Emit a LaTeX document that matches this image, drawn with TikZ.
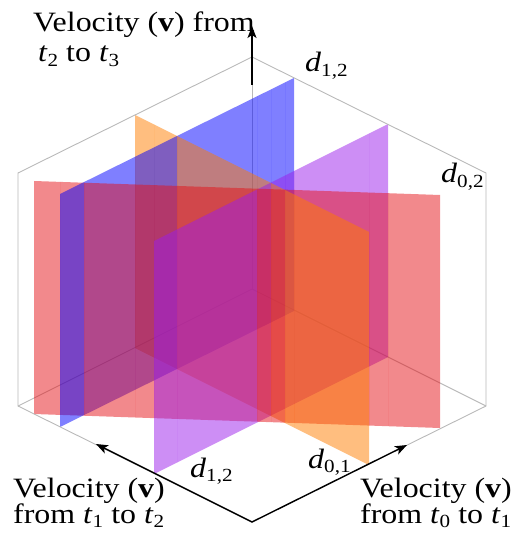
\documentclass[tikz,border=0pt]{standalone}
\usepackage{fontspec}
\setmainfont{Liberation Serif}[FakeStretch=1.14]
\usetikzlibrary{arrows.meta}
\definecolor{cR}{RGB}{229,19,25}
\definecolor{cB}{RGB}{0,0,255}
\definecolor{cP}{RGB}{155,30,235}
\definecolor{cO}{RGB}{255,125,0}
\definecolor{edgegray}{RGB}{185,185,185}
\newcommand\mysub[1]{\raisebox{-4.5pt}{\fontsize{18.5}{18.5}\selectfont #1}}
\newcommand\plR{\fill[fR] (34,181) -- (440,195) -- (440,428) -- (34,414) -- cycle;}
\newcommand\plB{\fill[fB] (294,78) -- (60,194) -- (60,427) -- (294,311) -- cycle;}
\newcommand\plP{\fill[fP] (388,124) -- (154,241) -- (154,474) -- (388,357) -- cycle;}
\newcommand\plO{\fill[fO] (135,115) -- (369,232) -- (369,465) -- (135,348) -- cycle;}
\newcommand\band[3]{\begin{scope}\clip (#1,0) rectangle (#2,537); #3\end{scope}}
\begin{document}
\begin{tikzpicture}[x=1pt,y=-1pt,
  edgeline/.style={draw=edgegray, line width=0.9pt},
  axisarrow/.style={draw=black, line width=1.4pt, line join=miter},
  lbl/.style={font=\fontsize{28}{30}\selectfont, inner sep=0pt, anchor=base west},
  fR/.style={fill=cR, fill opacity=0.5},
  fB/.style={fill=cB, fill opacity=0.5},
  fP/.style={fill=cP, fill opacity=0.5},
  fO/.style={fill=cO, fill opacity=0.5}]
\useasboundingbox (0,0) rectangle (519,537);
% cube corners
\coordinate (C) at (252,289);
\coordinate (T) at (252,57);
\coordinate (UR) at (486,173);
\coordinate (LR) at (486,406);
\coordinate (Bt) at (252,522);
\coordinate (LL) at (18,406);
\coordinate (UL) at (18,173);
% back edges
\draw[edgeline] (C) -- (T);
\draw[edgeline] (C) -- (LL);
\draw[edgeline] (C) -- (LR);
% planes, depth sorted per column band
\band{34}{60}{\plR}
\band{60}{84}{\plR\plB}
\band{84}{135}{\plB\plR}
\band{135}{154}{\plO\plB\plR}
\band{154}{177}{\plO\plB\plR\plP}
\band{177}{257}{\plB\plO\plR\plP}
\band{257}{271}{\plB\plO\plP\plR}
\band{271}{285}{\plB\plP\plO\plR}
\band{285}{294}{\plB\plP\plR\plO}
\band{294}{369}{\plP\plR\plO}
\band{369}{388}{\plP\plR}
\band{388}{440}{\plR}
% outline
\draw[edgeline] (T) -- (UR) -- (LR) -- (Bt) -- (LL) -- (UL) -- cycle;
% labels
\node[lbl] (top1) at (33,32) {Velocity (\textbf{v}) from};
\node[lbl] (top2) at (38,62) {\textit{t}\mysub{2} to \textit{t}\mysub{3}};
\node[lbl] (bl1) at (13,497) {Velocity (\textbf{v})};
\node[lbl] (bl2) at (13,523) {from \textit{t}\mysub{1} to \textit{t}\mysub{2}};
\node[lbl] (br1) at (360,497) {Velocity (\textbf{v})};
\node[lbl] (br2) at (360,523) {from \textit{t}\mysub{0} to \textit{t}\mysub{1}};
\node[lbl] (dtop) at (305,72) {\textit{d}\mysub{1,2}};
\node[lbl] (dright) at (441,183) {\textit{d}\mysub{0,2}};
\node[lbl] (dbl) at (190,477) {\textit{d}\mysub{1,2}};
\node[lbl] (dbr) at (308,468) {\textit{d}\mysub{0,1}};
% axes
\coordinate (ax1) at (96,444);
\coordinate (ax0) at (407,445);
\coordinate (vz0) at (252,85);
\coordinate (vz1) at (252,26);
\draw[axisarrow, {Stealth[length=12pt,width=9pt,inset=3pt]}-{Stealth[length=12pt,width=9pt,inset=3pt]}] (ax1) -- (Bt) -- (ax0);
\draw[axisarrow, -{Stealth[length=12pt,width=9pt,inset=3pt]}] (vz0) -- (vz1);
\end{tikzpicture}
\end{document}
